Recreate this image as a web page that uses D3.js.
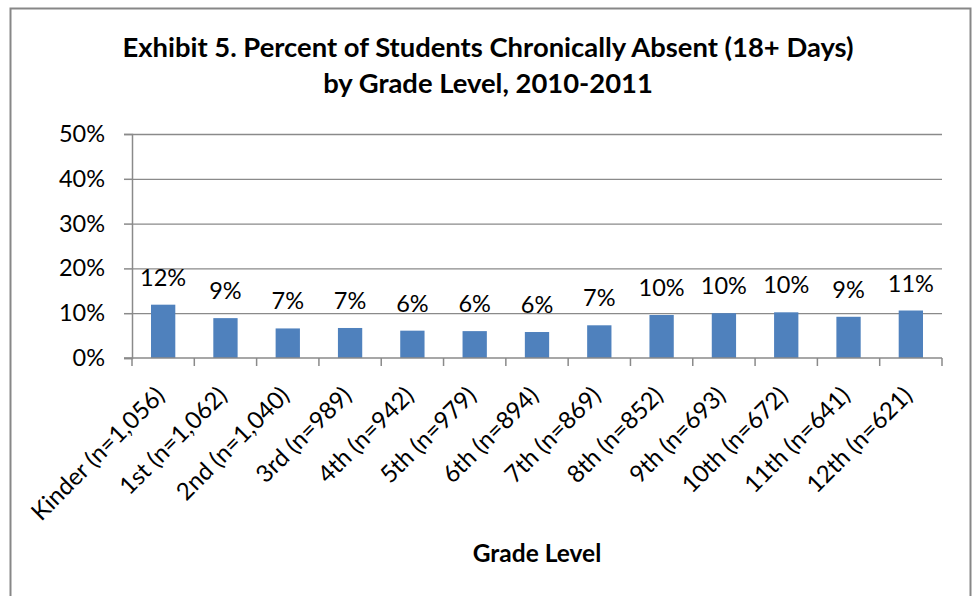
<!DOCTYPE html>
<html>
<head>
<meta charset="utf-8">
<script src="https://cdn.jsdelivr.net/npm/d3@7"></script>
<style>
  body { margin: 0; background: #fff; }
  svg text { font-family: Lato, "Open Sans", sans-serif; fill: #000; }
</style>
</head>
<body>
<div id="chart"></div>
<script>
// Chart data
const grades = ["Kinder (n=1,056)", "1st (n=1,062)", "2nd (n=1,040)", "3rd (n=989)", "4th (n=942)",
  "5th (n=979)", "6th (n=894)", "7th (n=869)", "8th (n=852)", "9th (n=693)", "10th (n=672)",
  "11th (n=641)", "12th (n=621)"];
const pctAbsent = [11.9, 8.9, 6.6, 6.7, 6.1, 6.0, 5.8, 7.3, 9.6, 10.0, 10.2, 9.2, 10.6];
const yTicks = [0, 10, 20, 30, 40, 50];
const titleLines = ["Exhibit 5. Percent of Students Chronically Absent (18+ Days)", "by Grade Level, 2010-2011"];
const xTitle = "Grade Level";

const W = 972, H = 596;
const PLOT = { LEFT: 132, RIGHT: 942, TOP: 134, BOTTOM: 358 };
const FONT = 23.5;

const svg = d3.select("#chart").append("svg").attr("width", W).attr("height", H);

// outer frame (bottom edge is cut off in the reference)
svg.append("rect")
  .attr("x", 10.5).attr("y", 8.5)
  .attr("width", 960).attr("height", 620)
  .attr("fill", "none").attr("stroke", "#878787").attr("stroke-width", 2);

// Title
svg.append("g").selectAll("text")
  .data(titleLines)
  .join("text")
    .attr("x", 488)
    .attr("y", (d, i) => 57 + i * 36)
    .attr("text-anchor", "middle")
    .attr("font-size", 27.4)
    .attr("font-weight", "bold")
    .text(d => d);

// scales
const x = d3.scaleBand().domain(grades).range([PLOT.LEFT, PLOT.RIGHT]).paddingInner(0.61).paddingOuter(0.305);
const xTick = d3.scaleBand().domain(grades).range([PLOT.LEFT, PLOT.RIGHT]);
const y = d3.scaleLinear().domain([0, 50]).range([PLOT.BOTTOM, PLOT.TOP]);

// gridlines
svg.append("g")
  .attr("transform", `translate(${PLOT.LEFT},0)`)
  .call(d3.axisLeft(y).tickValues(yTicks.slice(1)).tickSize(-(PLOT.RIGHT - PLOT.LEFT)).tickFormat(""))
  .call(g => g.select(".domain").remove())
  .call(g => g.selectAll("line").attr("stroke", "#8a8a8a").attr("stroke-width", 1.3));

// y axis
svg.append("g")
  .attr("transform", `translate(${PLOT.LEFT},0)`)
  .call(d3.axisLeft(y).tickValues(yTicks).tickSize(8).tickPadding(19).tickFormat(d => d + "%"))
  .call(g => g.select(".domain").attr("stroke", "#8a8a8a").attr("stroke-width", 1.5))
  .call(g => g.selectAll("line").attr("stroke", "#8a8a8a").attr("stroke-width", 1.5))
  .call(g => g.selectAll("text").attr("font-size", FONT).attr("font-family", "Lato, sans-serif").attr("fill", "#000"));

// bars
svg.append("g").selectAll("rect")
  .data(pctAbsent)
  .join("rect")
    .attr("x", (d, i) => x(grades[i]))
    .attr("y", d => y(d))
    .attr("width", x.bandwidth())
    .attr("height", d => y(0) - y(d))
    .attr("fill", "#4F81BD");

// data labels
svg.append("g").selectAll("text")
  .data(pctAbsent)
  .join("text")
    .attr("x", (d, i) => x(grades[i]) + x.bandwidth() / 2)
    .attr("y", d => y(d) - 19)
    .attr("text-anchor", "middle")
    .attr("font-size", FONT)
    .text(d => Math.round(d) + "%");

// x axis with tick marks at band edges
const xAxisG = svg.append("g").attr("transform", `translate(0,${PLOT.BOTTOM})`);
xAxisG.append("line")
  .attr("x1", PLOT.LEFT - 8).attr("x2", PLOT.RIGHT)
  .attr("stroke", "#8a8a8a").attr("stroke-width", 1.5);
xAxisG.selectAll("line.tick")
  .data(grades.concat([null]))
  .join("line")
    .attr("class", "tick")
    .attr("x1", (d, i) => PLOT.LEFT + i * xTick.step())
    .attr("x2", (d, i) => PLOT.LEFT + i * xTick.step())
    .attr("y1", 0).attr("y2", 8)
    .attr("stroke", "#8a8a8a").attr("stroke-width", 1.5);
xAxisG.selectAll("text")
  .data(grades)
  .join("text")
    .attr("transform", d => `translate(${xTick(d) + xTick.bandwidth() / 2 + 3},${39}) rotate(-45)`)
    .attr("text-anchor", "end")
    .attr("font-size", 24)
    .text(d => d);

// x axis title
svg.append("text")
  .attr("x", (PLOT.LEFT + PLOT.RIGHT) / 2)
  .attr("y", 562)
  .attr("text-anchor", "middle")
  .attr("font-size", 24.5)
  .attr("font-weight", "bold")
  .text(xTitle);
</script>
</body>
</html>
